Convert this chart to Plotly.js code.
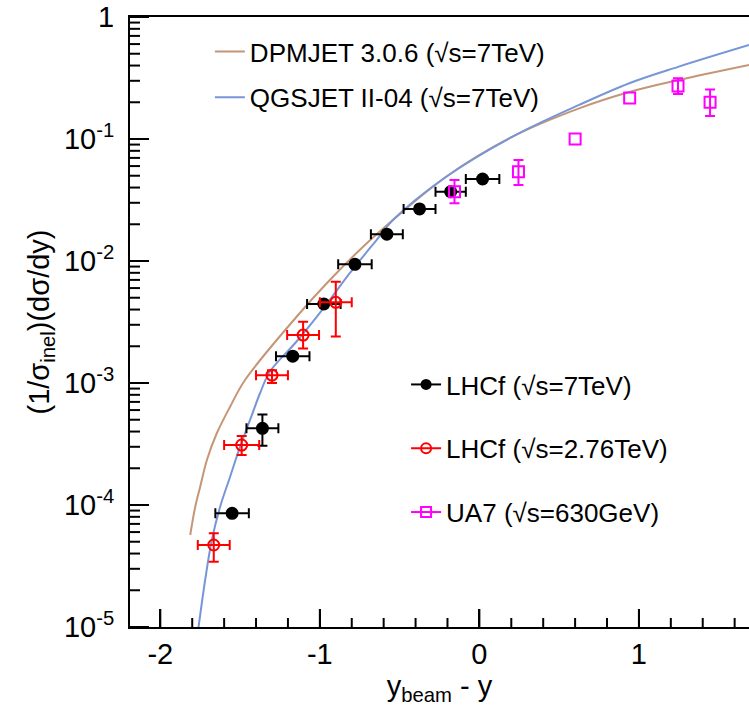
<!DOCTYPE html>
<html>
<head>
<meta charset="utf-8">
<script src="https://cdn.plot.ly/plotly-3.0.1.min.js"></script>
<style>
  html, body { margin: 0; padding: 0; background: #fff; overflow: hidden; }
  #chart { width: 749px; height: 715px; }
</style>
</head>
<body>
<div id="chart"></div>
<script>
// ---- Model curves ----
const dpmX = [-1.8125, -1.781, -1.75, -1.708, -1.646, -1.5625, -1.469, -1.146, -0.9375, -0.729, -0.542, -0.208, 0.208, 0.625, 0.94, 1.25, 1.69];
const dpmY = [5.675e-5, 9.68e-5, 1.413e-4, 2.339e-4, 3.873e-4, 6.397e-4, 1.059e-3, 3.491e-3, 6.982e-3, 1.309e-2, 2.168e-2, 4.909e-2, 0.1045, 0.1782, 0.2427, 0.3048, 0.4046];

const qgsX = [-1.771, -1.760, -1.719, -1.677, -1.625, -1.5625, -1.5, -1.4375, -1.375, -1.3125, -1.146, -0.979, -0.8125, -0.646, -0.542, -0.208, 0.208, 0.625, 0.94, 1.25, 1.69];
const qgsY = [7.94e-6, 1.007e-5, 2.427e-5, 5.164e-5, 9.68e-5, 1.706e-4, 3.006e-4, 4.977e-4, 8.241e-4, 1.242e-3, 2.188e-3, 4.074e-3, 7.943e-3, 1.479e-2, 2.168e-2, 4.909e-2, 0.1045, 0.1901, 0.2864, 0.3917, 0.5888];

// ---- LHCf 7 TeV ----
const lhcf7X = [0.02, -0.18, -0.375, -0.58, -0.78, -0.975, -1.17, -1.36, -1.55];
const lhcf7Y = [0.047, 0.037, 0.0267, 0.0166, 0.0094, 0.00444, 0.00166, 0.000425, 0.0000855];
const lhcf7Xerr = [0.105, 0.095, 0.1, 0.1, 0.105, 0.105, 0.105, 0.1, 0.105];
const lhcf7YerrUp = [NaN, NaN, NaN, NaN, NaN, NaN, NaN, 0.000128, NaN];
const lhcf7YerrDn = [NaN, NaN, NaN, NaN, NaN, NaN, NaN, 0.000119, NaN];

// ---- LHCf 2.76 TeV ----
const lhcf276X = [-0.90, -1.105, -1.30, -1.49, -1.665];
const lhcf276Y = [0.00458, 0.00247, 0.00116, 0.00031, 0.000047];
const lhcf276Xerr = [0.1, 0.1, 0.1, 0.11, 0.1];
const lhcf276YerrUp = [0.00218, 0.00071, 0.00011, 0.000058, 0.0000116];
const lhcf276YerrDn = [0.00218, 0.00055, 0.00016, 0.000053, 0.0000127];

// ---- UA7 630 GeV ----
const ua7X = [-0.156, 0.245, 0.60, 0.942, 1.245, 1.446];
const ua7Y = [0.037, 0.054, 0.100, 0.217, 0.272, 0.200];
const ua7YerrUp = [0.0091, 0.0133, NaN, NaN, 0.042, 0.055];
const ua7YerrDn = [0.0073, 0.012, NaN, NaN, 0.038, 0.046];

// ---- Axis ticks ----
const yTickVals = [1e-5, 1e-4, 1e-3, 1e-2, 1e-1, 1];
const yTickText = ['10<sup>-5</sup>', '10<sup>-4</sup>', '10<sup>-3</sup>', '10<sup>-2</sup>', '10<sup>-1</sup>', '1'];
const xTickVals = [-2, -1, 0, 1];
const xTickText = ['-2', '-1', '0', '1'];

const legendNames = {
  dpm: 'DPMJET 3.0.6 (√s=7TeV)',
  qgs: 'QGSJET II-04 (√s=7TeV)',
  l7: 'LHCf (√s=7TeV)',
  l276: 'LHCf (√s=2.76TeV)',
  ua7: 'UA7 (√s=630GeV)'
};

const X_RANGE = [-2.19, 1.69];
const Y_RANGE_LOG = [-5, 0];
const minorY = [];
for (let e = -5; e < 0; e++) for (let k = 2; k <= 9; k++) minorY.push(k * Math.pow(10, e));
const minorX = [];
for (let k = -10; k <= 8; k++) { const v = k / 5; if (k % 5 !== 0 && v > X_RANGE[0] && v < X_RANGE[1]) minorX.push(v); }

// inside tick marks, built from the tick arrays and drawn on the axes' own scales
const PLOT_W = 749 - 130, PLOT_H = 715 - 17 - 88;
const xPerPx = (X_RANGE[1] - X_RANGE[0]) / PLOT_W;
const decPerPx = (Y_RANGE_LOG[1] - Y_RANGE_LOG[0]) / PLOT_H;
const tickSegX = [], tickSegY = [];
function xTick(v, len) { tickSegX.push(v, v, null); tickSegY.push(Math.pow(10, Y_RANGE_LOG[0]), Math.pow(10, Y_RANGE_LOG[0] + len * decPerPx), null); }
function yTick(v, len) { tickSegX.push(X_RANGE[0], X_RANGE[0] + len * xPerPx, null); tickSegY.push(v, v, null); }
xTickVals.forEach(v => xTick(v, 18));
minorX.forEach(v => xTick(v, 9));
yTickVals.forEach(v => yTick(v, 19));
minorY.forEach(v => yTick(v, 10));

const FONT = '"Liberation Sans", Arial, Helvetica, sans-serif';
const cBrown = 'rgb(196,150,118)';
const cBlue = 'rgb(120,150,215)';

const traces = [
  { x: tickSegX, y: tickSegY, type: 'scatter', mode: 'lines', showlegend: false, hoverinfo: 'skip',
    line: { color: 'black', width: 2 }, connectgaps: false, cliponaxis: false },

  { x: dpmX, y: dpmY, type: 'scatter', mode: 'lines', name: legendNames.dpm,
    line: { color: cBrown, width: 2, shape: 'spline', smoothing: 1 }, legend: 'legend', legendgroup: 'a' },
  { x: qgsX, y: qgsY, type: 'scatter', mode: 'lines', name: legendNames.qgs,
    line: { color: cBlue, width: 2, shape: 'spline', smoothing: 1 }, legend: 'legend', legendgroup: 'b' },

  { x: lhcf7X, y: lhcf7Y, type: 'scatter', mode: 'markers', showlegend: false,
    marker: { color: 'black', size: 13, symbol: 'circle' },
    error_x: { type: 'data', array: lhcf7Xerr, color: 'black', thickness: 2, width: 5 },
    error_y: { type: 'data', symmetric: false, array: lhcf7YerrUp, arrayminus: lhcf7YerrDn, color: 'black', thickness: 2, width: 5 } },
  { x: lhcf276X, y: lhcf276Y, type: 'scatter', mode: 'markers', showlegend: false,
    marker: { color: 'red', size: 11, symbol: 'circle-open', line: { color: 'red', width: 2 } },
    error_x: { type: 'data', array: lhcf276Xerr, color: 'red', thickness: 2, width: 5 },
    error_y: { type: 'data', symmetric: false, array: lhcf276YerrUp, arrayminus: lhcf276YerrDn, color: 'red', thickness: 2, width: 5 } },
  { x: ua7X, y: ua7Y, type: 'scatter', mode: 'markers', showlegend: false,
    marker: { color: 'magenta', size: 11, symbol: 'square-open', line: { color: 'magenta', width: 2 } },
    error_y: { type: 'data', symmetric: false, array: ua7YerrUp, arrayminus: ua7YerrDn, color: 'magenta', thickness: 2, width: 5 } },

  // legend-only entries (line + marker style as in the reference legend)
  { x: [null], y: [null], type: 'scatter', mode: 'lines+markers', name: legendNames.l7, legend: 'legend2', legendgroup: 'c',
    line: { color: 'black', width: 2 }, marker: { color: 'black', size: 11, symbol: 'circle' } },
  { x: [null], y: [null], type: 'scatter', mode: 'lines+markers', name: legendNames.l276, legend: 'legend2', legendgroup: 'd',
    line: { color: 'red', width: 2 }, marker: { color: 'red', size: 10, symbol: 'circle-open', line: { color: 'red', width: 2 } } },
  { x: [null], y: [null], type: 'scatter', mode: 'lines+markers', name: legendNames.ua7, legend: 'legend2', legendgroup: 'e',
    line: { color: 'magenta', width: 2 }, marker: { color: 'magenta', size: 10, symbol: 'square-open', line: { color: 'magenta', width: 2 } } }
];

const layout = {
  width: 749, height: 715,
  margin: { l: 130, r: 0, t: 17, b: 88 },
  paper_bgcolor: '#fff', plot_bgcolor: '#fff',
  font: { family: FONT, color: 'black', size: 26 },
  xaxis: {
    range: X_RANGE, showgrid: false, zeroline: false,
    showline: true, linecolor: 'black', linewidth: 2, mirror: true,
    ticks: 'inside', ticklen: 18, tickwidth: 2, tickcolor: 'black',
    tickmode: 'array', tickvals: xTickVals, ticktext: xTickText,
    tickfont: { family: FONT, size: 29 },
    title: { text: 'y<sub>beam</sub> - y', font: { family: FONT, size: 29 }, standoff: 0 }
  },
  yaxis: {
    type: 'log', range: Y_RANGE_LOG, showgrid: false, zeroline: false,
    showline: true, linecolor: 'black', linewidth: 2, mirror: false,
    ticks: 'inside', ticklen: 19, tickwidth: 2, tickcolor: 'black',
    tickmode: 'array', tickvals: yTickVals, ticktext: yTickText,
    tickfont: { family: FONT, size: 29 }, ticklabelstandoff: 8,
    title: { text: '(1/σ<sub>inel</sub>)(dσ/dy)', font: { family: FONT, size: 29 }, standoff: 6 }
  },
  showlegend: true,
  legend: {
    x: 0.129, y: 0.982, xanchor: 'left', yanchor: 'top',
    bgcolor: 'rgba(0,0,0,0)', borderwidth: 0,
    font: { family: FONT, size: 26, color: 'black' },
    traceorder: 'grouped', tracegroupgap: 9
  },
  legend2: {
    x: 0.446, y: 0.436, xanchor: 'left', yanchor: 'top',
    bgcolor: 'rgba(0,0,0,0)', borderwidth: 0,
    font: { family: FONT, size: 26, color: 'black' },
    traceorder: 'grouped', tracegroupgap: 27
  }
};

Plotly.newPlot('chart', traces, layout, { displayModeBar: false, staticPlot: true });
</script>
</body>
</html>
